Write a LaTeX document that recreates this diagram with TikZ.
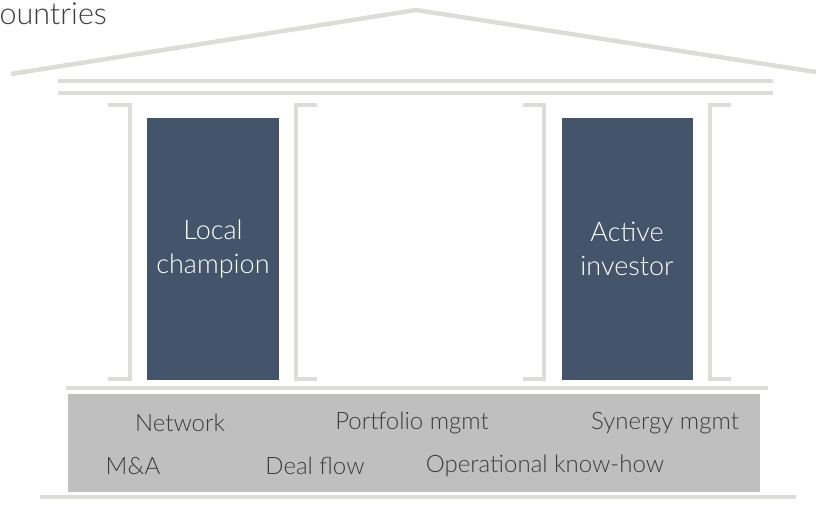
\documentclass[tikz,border=0pt]{standalone}
\usepackage{fontspec}
\setmainfont{Lato}[UprightFont=* Light]
\definecolor{beam}{HTML}{DEDCD8}
\definecolor{pillar}{HTML}{44546A}
\definecolor{plinth}{HTML}{BFBFBF}
\definecolor{ink}{HTML}{3C3C3C}
\begin{document}
\begin{tikzpicture}[x=1pt,y=-1pt,
  beamline/.style={draw=beam,line width=4.5pt},
  pillarbox/.style={fill=pillar,draw=none,inner sep=0pt,text=white,align=center,
    font=\fontsize{27}{34}\selectfont},
  basetext/.style={text=ink,inner sep=0pt,font=\fontsize{24}{28}\selectfont}]
\useasboundingbox (0,0) rectangle (816,507);

% roof
\coordinate (roofL) at (11,74);
\coordinate (roofT) at (416,10);
\coordinate (roofR) at (816,72);
\draw[beamline,line join=miter] (roofL) -- (roofT) -- (roofR);
\node[text=ink,anchor=base east,inner sep=0pt,font=\fontsize{30.5}{34}\selectfont] (title) at (107,24) {ountries};

% entablature
\draw[beamline] (58,81) -- (773,81);
\draw[beamline] (58,93) -- (773,93);

% bracket columns
\draw[beamline] (108,105) -- (130,105) -- (130,379) -- (108,379);
\draw[beamline] (317,105) -- (296,105) -- (296,379) -- (317,379);
\draw[beamline] (523,105) -- (544,105) -- (544,379) -- (523,379);
\draw[beamline] (731,105) -- (710,105) -- (710,379) -- (731,379);

% solid pillars
\node[pillarbox,minimum width=132pt,minimum height=262pt] (local) at (213,249) {Local\\champion};
\node[pillarbox,minimum width=131pt,minimum height=262pt] (active) at (627,249) {Active\\investor};

% base
\draw[beamline] (66,388) -- (768,388);
\node[fill=plinth,inner sep=0pt,minimum width=692pt,minimum height=98pt] (plinth) at (414,443) {};
\draw[beamline] (40,497) -- (796,497);

\node[basetext] (network) at (180,423) {Network};
\node[basetext] (portfolio) at (412,423) {Portfolio mgmt};
\node[basetext] (synergy) at (665,423) {Synergy mgmt};
\node[basetext] (ma) at (133,466) {M\&A};
\node[basetext] (deal) at (315,466) {Deal flow};
\node[basetext] (ops) at (545,466) {Operational know-how};
\end{tikzpicture}
\end{document}
